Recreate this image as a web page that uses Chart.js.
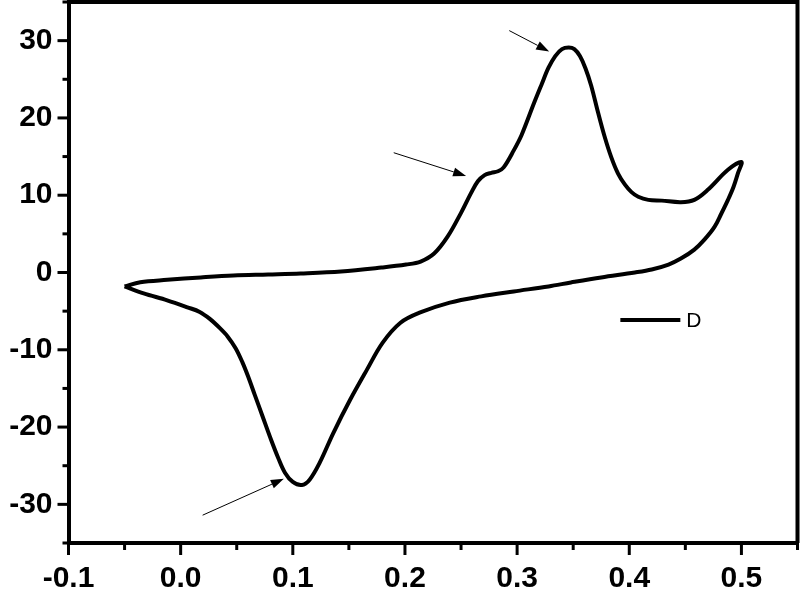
<!DOCTYPE html>
<html>
<head>
<meta charset="utf-8">
<script src="https://cdn.jsdelivr.net/npm/chart.js@4/dist/chart.umd.min.js"></script>
<style>
  html, body { margin: 0; padding: 0; background: #fff; }
  #wrap { width: 800px; height: 609px; }
</style>
</head>
<body>
<div id="wrap"><canvas id="cvChart"></canvas></div>
<script>
// Potential (V) and current values, one closed loop
// starting at the left switching point, anodic sweep first then cathodic
const potential = [
    -0.050, -0.036, -0.012, 0.018, 0.047, 0.078, 0.107, 0.143, 0.179, 0.201,
    0.214, 0.226, 0.238, 0.250, 0.259, 0.265, 0.271, 0.277, 0.283, 0.288,
    0.297, 0.304, 0.315, 0.322, 0.328, 0.334, 0.340, 0.346, 0.351, 0.356,
    0.361, 0.366, 0.372, 0.378, 0.384, 0.390, 0.396, 0.402, 0.408, 0.417,
    0.429, 0.446, 0.458, 0.470, 0.488, 0.500,
    0.497, 0.493, 0.488, 0.482, 0.476, 0.467, 0.458, 0.446, 0.435, 0.420,
    0.405, 0.375, 0.348, 0.328, 0.297, 0.268, 0.240, 0.213, 0.196, 0.180,
    0.166, 0.151, 0.136, 0.124, 0.115, 0.108, 0.100, 0.093, 0.087, 0.080,
    0.073, 0.066, 0.060, 0.055, 0.049, 0.042, 0.035, 0.026, 0.017, 0.006,
    -0.012, -0.033, -0.050
];
const current = [
    -1.80, -1.25, -0.95, -0.64, -0.39, -0.26, -0.13, 0.13, 0.64, 1.03,
    1.42, 2.45, 4.63, 7.72, 10.3, 11.8, 12.6, 12.9, 13.1, 13.6,
    15.8, 17.8, 21.9, 24.4, 26.5, 28.0, 28.9, 29.1, 28.9, 28.0,
    26.4, 24.2, 20.8, 17.6, 14.9, 12.8, 11.4, 10.4, 9.8, 9.4,
    9.3, 9.1, 9.4, 10.7, 13.3, 14.3,
    12.9, 11.1, 9.4, 7.6, 5.9, 4.25, 2.96, 1.8, 1.03, 0.39,
    0.0, -0.64, -1.29, -1.80, -2.45, -3.09, -3.9, -5.2, -6.5, -9.1,
    -12.6, -16.5, -20.8, -24.6, -26.8, -27.5, -27.1, -25.9, -24.0, -21.4,
    -18.6, -15.8, -13.4, -11.6, -9.8, -8.3, -7.2, -6.0, -5.1, -4.5,
    -3.6, -2.7, -1.80
];
const seriesName = 'D';

// Axis settings
const xMin = -0.1, xMax = 0.55, xStep = 0.05;
const yMin = -35, yMax = 35, yStep = 5;

// Arrows pointing at the peaks, in data units: [tailX, tailY, headX, headY]
const arrows = [
    [0.293, 31.3, 0.3286, 28.6],
    [0.190, 15.5, 0.2545, 12.5],
    [0.0196, -31.4, 0.092, -26.7]
];

const points = potential.map((v, i) => ({ x: v, y: current[i] }));

function isMajor(value, step) {
    return Math.abs(value / step - Math.round(value / step)) < 1e-6;
}

// no extra room for the end labels, the plot fills the canvas edges
function noPadding(scale) {
    scale.paddingTop = 0;
    scale.paddingBottom = 0;
    scale.paddingLeft = 0;
    scale.paddingRight = 0;
}

// Tick marks (major and minor), top/right frame, arrows and the legend
const decorations = {
    id: 'decorations',
    afterDraw(chart) {
        const ctx = chart.ctx;
        const area = chart.chartArea;
        const xs = chart.scales.x;
        const ys = chart.scales.y;
        ctx.save();
        ctx.strokeStyle = '#000';
        ctx.lineWidth = 3;

        // y ticks, pointing out to the left
        ys.ticks.forEach(t => {
            const py = ys.getPixelForValue(t.value);
            const len = isMajor(t.value, 10) ? 11 : 6;
            ctx.beginPath();
            ctx.moveTo(area.left, py);
            ctx.lineTo(area.left - len, py);
            ctx.stroke();
        });
        // x ticks, pointing down
        xs.ticks.forEach(t => {
            const px = xs.getPixelForValue(t.value);
            const len = isMajor(t.value, 0.1) ? 12 : 7;
            ctx.beginPath();
            ctx.moveTo(px, area.bottom);
            ctx.lineTo(px, area.bottom + len);
            ctx.stroke();
        });

        // top and right frame lines
        ctx.lineWidth = 4;
        ctx.beginPath();
        ctx.moveTo(area.left, area.top);
        ctx.lineTo(area.right, area.top);
        ctx.lineTo(area.right, area.bottom);
        ctx.stroke();

        // arrows
        ctx.lineWidth = 1;
        ctx.fillStyle = '#000';
        arrows.forEach(a => {
            const x1 = xs.getPixelForValue(a[0]), y1 = ys.getPixelForValue(a[1]);
            const x2 = xs.getPixelForValue(a[2]), y2 = ys.getPixelForValue(a[3]);
            const ang = Math.atan2(y2 - y1, x2 - x1);
            const headLen = 13, headHalf = 4.5;
            const bx = x2 - headLen * Math.cos(ang), by = y2 - headLen * Math.sin(ang);
            ctx.beginPath();
            ctx.moveTo(x1, y1);
            ctx.lineTo(bx, by);
            ctx.stroke();
            ctx.beginPath();
            ctx.moveTo(x2, y2);
            ctx.lineTo(bx + headHalf * Math.sin(ang), by - headHalf * Math.cos(ang));
            ctx.lineTo(bx - headHalf * Math.sin(ang), by + headHalf * Math.cos(ang));
            ctx.closePath();
            ctx.fill();
        });

        // legend inside the plot
        const lx = area.left + 0.757 * (area.right - area.left);
        const ly = area.top + 0.588 * (area.bottom - area.top);
        ctx.lineWidth = 4;
        ctx.beginPath();
        ctx.moveTo(lx, ly);
        ctx.lineTo(lx + 60, ly);
        ctx.stroke();
        ctx.font = '21px "Liberation Sans", Arial, sans-serif';
        ctx.textBaseline = 'middle';
        ctx.textAlign = 'left';
        ctx.fillText(seriesName, lx + 66, ly + 1);
        ctx.restore();
    }
};

const tickFont = { family: '"Liberation Sans", Arial, sans-serif', size: 30, weight: 'bold' };

const ctx = document.getElementById('cvChart').getContext('2d');
const cvChart = new Chart(ctx, {
    type: 'line',
    data: {
        datasets: [{
            label: seriesName,
            data: points,
            borderColor: '#000',
            borderWidth: 4,
            pointRadius: 0,
            fill: false,
            tension: 0.35
        }]
    },
    options: {
        responsive: true,
        maintainAspectRatio: false,
        animation: false,
        layout: { padding: { top: 2, right: 2.5, left: 0, bottom: 0 } },
        plugins: {
            legend: { display: false },
            tooltip: { enabled: false }
        },
        scales: {
            x: {
                type: 'linear',
                min: xMin,
                max: xMax,
                grid: { display: false },
                border: { display: true, color: '#000', width: 4 },
                ticks: {
                    stepSize: xStep,
                    color: '#000',
                    font: tickFont,
                    padding: 10,
                    maxRotation: 0,
                    autoSkip: false,
                    callback: v => (isMajor(v, 0.1) && v < 0.54) ? v.toFixed(1) : ''
                },
                afterFit: scale => { scale.height = 66; noPadding(scale); }
            },
            y: {
                min: yMin,
                max: yMax,
                grid: { display: false },
                border: { display: true, color: '#000', width: 4 },
                ticks: {
                    stepSize: yStep,
                    color: '#000',
                    font: tickFont,
                    padding: 8,
                    autoSkip: false,
                    callback: v => isMajor(v, 10) ? String(v) : ''
                },
                afterFit: scale => { scale.width = 68.5; noPadding(scale); }
            }
        }
    },
    plugins: [decorations]
});
</script>
</body>
</html>
